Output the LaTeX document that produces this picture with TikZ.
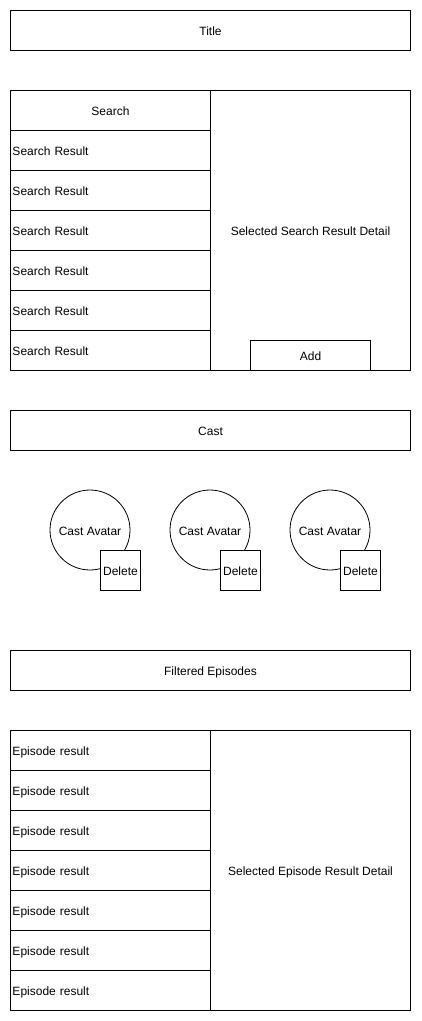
\documentclass[tikz,border=0pt]{standalone}
\usepackage{fontspec}
\setmainfont{Liberation Sans}
\usetikzlibrary{positioning}
\tikzset{
  box/.style={draw, line width=1pt, minimum width=400pt, minimum height=40pt, inner sep=0pt, anchor=north west},
  cell/.style={draw, line width=1pt, minimum width=200pt, minimum height=40pt, text width=196pt, inner xsep=2pt, inner ysep=0pt, align=left, anchor=north west},
  headcell/.style={draw, line width=1pt, minimum width=200pt, minimum height=40pt, inner sep=0pt, anchor=north west},
  detail/.style={draw, line width=1pt, minimum width=200pt, minimum height=280pt, inner sep=0pt, anchor=north west},
  avatar/.style={draw, circle, line width=0.8pt, minimum size=80pt, inner sep=0pt},
  delbox/.style={draw, fill=white, line width=1pt, minimum size=40pt, inner sep=0pt, anchor=north west},
  addbtn/.style={draw, fill=white, line width=1pt, minimum width=120pt, minimum height=30pt, inner sep=0pt, anchor=north west}
}
\begin{document}
\begin{tikzpicture}[x=1pt, y=-1pt, font=\fontsize{12}{14}\selectfont,
    every node/.append style={text height=10pt, text depth=0pt}]
    \useasboundingbox (0,0) rectangle (421,1021);
    % title
    \node[box] (title) at (10,10) {Title};
    % search
    \node[detail] (searchdetail) at (210,90) {Selected Search Result Detail};
    \node[headcell] (search) at (10,90) {Search};
    \foreach \i in {1,...,6}
    \node[cell] (result\i) at (10,90+40*\i) {Search Result};
    \node[addbtn] (add) at (250,340) {Add};
    % cast
    \node[box] (cast) at (10,410) {Cast};
    \foreach \i/\x in {1/90, 2/210, 3/330} {
      \node[avatar] (avatar\i) at (\x,530) {Cast Avatar};
      \node[delbox] (delete\i) at (\x+10,550) {Delete};
    }
    % episodes
    \node[box] (filtered) at (10,650) {Filtered Episodes};
    \node[detail] (episodedetail) at (210,730) {Selected Episode Result Detail};
    \foreach \i in {0,...,6}
    \node[cell] (episode\i) at (10,730+40*\i) {Episode result};
\end{tikzpicture}
\end{document}
